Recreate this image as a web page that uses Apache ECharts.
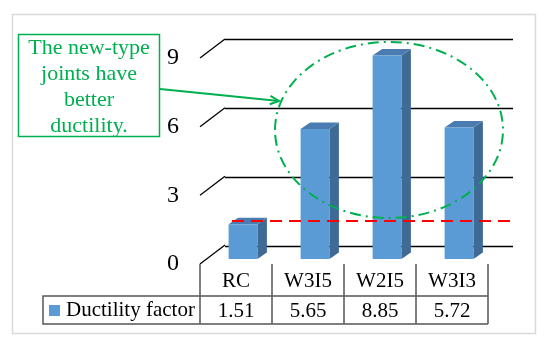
<!DOCTYPE html>
<html>
<head>
<meta charset="utf-8">
<script src="https://cdn.jsdelivr.net/npm/echarts@6/dist/echarts.min.js"></script>
<style>
html,body{margin:0;padding:0;background:#fff;}
#chart{width:550px;height:349px;}
</style>
</head>
<body>
<div id="chart"></div>
<script>
// ---- data ----
const categories = ['RC', 'W3I5', 'W2I5', 'W3I3'];
const ductility = [1.51, 5.65, 8.85, 5.72];
const yTicks = [0, 3, 6, 9];
const seriesName = 'Ductility factor';
const noteLines = ['The new-type', 'joints have', 'better', 'ductility.'];

// ---- styles ----
const FONT = '"Liberation Serif", "Times New Roman", serif';
const GREEN = '#00b050';
const FRONT = '#5b9bd5';
const SIDE = '#3f6a96';
const TOP = '#4a7cb2';
const DEPTH_X = 9.5, DEPTH_Y = 6.5;
const TABLE_LINE = '#555555';

const chart = echarts.init(document.getElementById('chart'), null, {renderer: 'canvas'});

const option = {
  animation: false,
  backgroundColor: '#ffffff',
  legend: {
    show: true,
    data: [seriesName],
    left: 49, top: 300,
    padding: 0,
    itemWidth: 11, itemHeight: 11, itemGap: 6,
    icon: 'rect',
    selectedMode: false,
    textStyle: {fontFamily: FONT, fontSize: 21, color: '#000', padding: [0, 0, 0, 1]}
  },
  grid: [
    // back wall
    {left: 225, right: 37, top: 39, bottom: 103},
    // labels + floor diagonals
    {left: 200, right: 37, top: 58, bottom: 85},
    // bars
    {left: 207, right: 55, top: 52, bottom: 90},
    // data table
    {left: 200, right: 62, top: 264, bottom: 25}
  ],
  xAxis: [
    {gridIndex: 0, type: 'category', data: categories, show: false},
    {gridIndex: 1, type: 'category', data: categories, show: false},
    {gridIndex: 2, type: 'category', data: categories, show: false},
    {gridIndex: 3, type: 'category', data: categories, show: false}
  ],
  yAxis: [
    {gridIndex: 0, type: 'value', min: 0, max: 9, interval: 3,
      axisLine: {show: false}, axisTick: {show: false}, axisLabel: {show: false},
      splitLine: {show: true, lineStyle: {color: '#000', width: 1.3}}},
    {gridIndex: 1, type: 'value', min: 0, max: 9, interval: 3,
      axisLine: {show: false}, axisTick: {show: false}, splitLine: {show: false},
      axisLabel: {show: true, margin: 21, fontFamily: FONT, fontSize: 24, color: '#000'}},
    {gridIndex: 2, type: 'value', min: 0, max: 9, show: false, splitLine: {show: false}},
    {gridIndex: 3, type: 'value', min: 0, max: 1, show: false, splitLine: {show: false}}
  ],
  series: [
    // floor diagonals from label edge to back wall
    {
      type: 'custom', xAxisIndex: 1, yAxisIndex: 1, z: 2, silent: true,
      data: yTicks.map(v => [0, v]),
      encode: {x: 0, y: 1},
      renderItem: function (params, api) {
        const p = api.coord([0, api.value(1)]);
        const x0 = params.coordSys.x;
        return {
          type: 'line',
          shape: {x1: x0, y1: p[1], x2: x0 + 25, y2: p[1] - 19},
          style: {stroke: '#000', lineWidth: 1.3}
        };
      }
    },
    // 3D bars
    {
      name: seriesName,
      type: 'custom', xAxisIndex: 2, yAxisIndex: 2, z: 5,
      itemStyle: {color: FRONT},
      data: ductility.map((v, i) => [i, v]),
      encode: {x: 0, y: 1},
      renderItem: function (params, api) {
        const top = api.coord([api.value(0), api.value(1)]);
        const base = api.coord([api.value(0), 0]);
        const band = api.size([1, 0])[0];
        const w = band * 0.4;
        const xl = top[0] - w / 2, xr = top[0] + w / 2;
        const yt = top[1], yb = base[1];
        return {
          type: 'group',
          children: [
            {type: 'polygon', shape: {points: [[xr, yt], [xr + DEPTH_X, yt - DEPTH_Y], [xr + DEPTH_X, yb - DEPTH_Y], [xr, yb]]},
              style: {fill: SIDE}},
            {type: 'polygon', shape: {points: [[xl, yt], [xl + DEPTH_X, yt - DEPTH_Y], [xr + DEPTH_X, yt - DEPTH_Y], [xr, yt]]},
              style: {fill: TOP}},
            {type: 'rect', shape: {x: xl, y: yt, width: w, height: yb - yt},
              style: {fill: FRONT}}
          ]
        };
      }
    },
    // data table cells
    {
      type: 'custom', xAxisIndex: 3, yAxisIndex: 3, z: 5, silent: true,
      data: ductility.map((v, i) => [i, v]),
      encode: {x: 0},
      renderItem: function (params, api) {
        const idx = api.value(0);
        const c = api.coord([idx, 0]);
        const band = api.size([1, 0])[0];
        const cs = params.coordSys;
        const xl = c[0] - band / 2, xr = c[0] + band / 2;
        const yTop = cs.y, yMid = cs.y + 32, yBot = cs.y + cs.height;
        const lineStyle = {stroke: TABLE_LINE, lineWidth: 1.5};
        const children = [
          {type: 'line', shape: {x1: xr, y1: yTop, x2: xr, y2: yBot}, style: lineStyle},
          {type: 'line', shape: {x1: xl, y1: yMid, x2: xr, y2: yMid}, style: lineStyle},
          {type: 'line', shape: {x1: xl, y1: yBot, x2: xr, y2: yBot}, style: lineStyle},
          {type: 'text', style: {text: categories[idx], x: c[0], y: (yTop + yMid) / 2 + 1,
            align: 'center', verticalAlign: 'middle', font: '21px ' + FONT, fill: '#000'}},
          {type: 'text', style: {text: ductility[idx].toFixed(2), x: c[0], y: (yMid + yBot) / 2 + 1,
            align: 'center', verticalAlign: 'middle', font: '21px ' + FONT, fill: '#000'}}
        ];
        if (idx === 0) {
          children.push({type: 'line', shape: {x1: xl, y1: yTop, x2: xl, y2: yBot}, style: lineStyle});
        }
        return {type: 'group', children: children};
      }
    }
  ],
  graphic: [
    // outer chart border
    {type: 'rect', z: 0, silent: true,
      shape: {x: 12.5, y: 14.5, width: 523, height: 319},
      style: {fill: null, stroke: '#d9d9d9', lineWidth: 1.5}},
    // legend cell borders
    {type: 'polyline', z: 10, silent: true,
      shape: {points: [[200, 296], [43, 296], [43, 324], [200, 324]]},
      style: {fill: null, stroke: TABLE_LINE, lineWidth: 1.5}},
    // red dashed reference line
    {type: 'line', z: 100, silent: true,
      shape: {x1: 232, y1: 221, x2: 513, y2: 221},
      style: {stroke: '#ff0000', lineWidth: 2, lineDash: [12, 7]}},
    // green dash-dot ellipse
    {type: 'ellipse', z: 100, silent: true,
      shape: {cx: 389, cy: 130, rx: 114, ry: 88},
      style: {fill: null, stroke: GREEN, lineWidth: 2, lineDash: [11, 5, 2, 5]}},
    // annotation box
    {type: 'rect', z: 100, silent: true,
      shape: {x: 18.5, y: 34.5, width: 141, height: 102},
      style: {fill: '#fff', stroke: GREEN, lineWidth: 1.5}},
    {type: 'text', z: 101, silent: true,
      style: {text: noteLines.join('\n'), x: 89, y: 87, align: 'center', verticalAlign: 'middle',
        font: '22px ' + FONT, lineHeight: 26, fill: GREEN}},
    // arrow
    {type: 'line', z: 100, silent: true,
      shape: {x1: 160, y1: 89, x2: 279, y2: 101},
      style: {stroke: GREEN, lineWidth: 2}},
    {type: 'polyline', z: 100, silent: true,
      shape: {points: [[270.5, 95.8], [279, 101], [269.7, 104.3]]},
      style: {fill: null, stroke: GREEN, lineWidth: 2}}
  ]
};

chart.setOption(option);
</script>
</body>
</html>
